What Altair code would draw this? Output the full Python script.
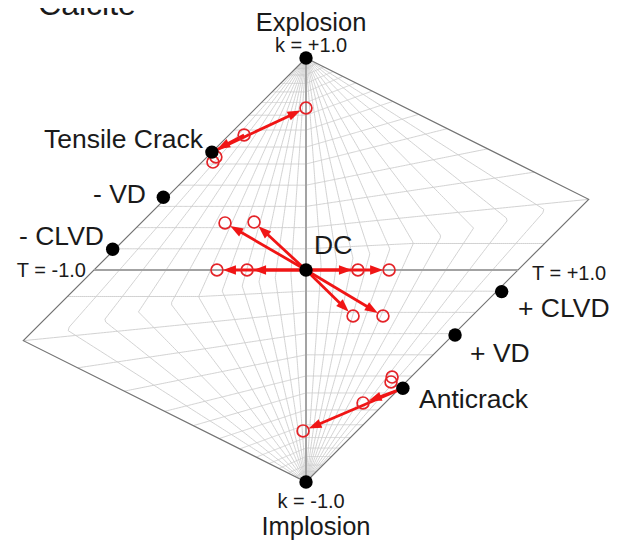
import altair as alt
import numpy as np
import pandas as pd

# ---------------- data (Hudson u-v source-type plot) ----------------
# theoretical source types (black dots)
SRC_NAMES = ["Explosion", "Implosion", "DC", "Tensile Crack", "- VD", "- CLVD",
             "+ CLVD", "+ VD", "Anticrack"]
SRC_U = [0.0, 0.0, 0.0, -0.444, -0.673, -0.912, 0.923, 0.703, 0.457]
SRC_V = [1.0, -1.0, 0.0, 0.556, 0.343, 0.098, -0.102, -0.307, -0.558]

# apparent source types in calcite (red open circles)
CAL_U = [0.000, -0.292, -0.425, -0.439, -0.382, -0.245, -0.278, -0.420,
         0.245, 0.392, 0.222, 0.363, 0.406, 0.401, 0.269, -0.014]
CAL_V = [0.764, 0.637, 0.533, 0.509, 0.222, 0.226, 0.000, 0.000,
         0.000, 0.000, -0.217, -0.217, -0.505, -0.528, -0.627, -0.759]

# arrows (from -> to)
ARR_U0 = [0, 0, 0, 0, 0, 0, 0, 0, -0.444, -0.292, 0.457, 0.457]
ARR_V0 = [0, 0, 0, 0, 0, 0, 0, 0, 0.556, 0.637, -0.558, -0.558]
ARR_U1 = [-0.382, -0.245, -0.278, -0.420, 0.245, 0.392, 0.222, 0.363,
          0.000, -0.444, 0.269, -0.014]
ARR_V1 = [0.222, 0.226, 0.000, 0.000, 0.000, 0.000, -0.217, -0.217,
          0.764, 0.556, -0.627, -0.759]

# grid levels of T and k
T_LEVELS = [0.07, 0.14, 0.21, 0.28, 0.36, 0.45, 0.55, 0.66, 0.77, 0.88]
K_LEVELS = [0.10, 0.20, 0.30, 0.40, 0.50, 0.58, 0.66, 0.73, 0.79, 0.84, 0.88, 0.92, 0.95]

# diamond outline
OUT_U = [0.0, 4 / 3, 0.0, -4 / 3, 0.0]
OUT_V = [1.0, 1 / 3, -1.0, -1 / 3, 1.0]

# labels
BIG_LABELS = ["Explosion", "Implosion"]
BIG_U = [0.024, 0.047]
BIG_V = [1.127, -1.250]
SMALL_CENTER = ["k = +1.0", "k = -1.0"]
SMALL_CENTER_U = [0.024, 0.024]
SMALL_CENTER_V = [1.028, -1.123]
RIGHT_LABELS = ["Tensile Crack", "- VD", "- CLVD"]
RIGHT_U = [-0.486, -0.755, -0.953]
RIGHT_V = [0.575, 0.316, 0.118]
LEFT_LABELS = ["DC", "+ CLVD", "+ VD", "Anticrack"]
LEFT_U = [0.038, 1.000, 0.774, 0.533]
LEFT_V = [0.075, -0.222, -0.434, -0.651]
T_LABELS = ["T = -1.0", "T = +1.0"]
T_LAB_U = [-1.038, 1.066]
T_LAB_V = [-0.033, -0.047]
TITLE = ["Calcite"]
TITLE_U = [-1.264]
TITLE_V = [1.203]


# ---------------- helpers ----------------
def hudson(T, k):
    tau = T * (1 - abs(k))
    if (tau > 0 and k < 0) or (tau < 0 and k > 0):
        return tau, k
    if tau >= 0 and k >= 0:
        if tau < 4 * k:
            return tau / (1 - tau / 2), k / (1 - tau / 2)
        return tau / (1 - 2 * k), k / (1 - 2 * k)
    if tau > 4 * k:
        return tau / (1 + tau / 2), k / (1 + tau / 2)
    return tau / (1 + 2 * k), k / (1 + 2 * k)


PX = 212.0  # pixels per unit
xs = alt.Scale(domain=[-1.4057, 1.4717], nice=False, zero=False)
ys = alt.Scale(domain=[-1.2830, 1.2358], nice=False, zero=False)


def X(f):
    return alt.X(f, type="quantitative", scale=xs, axis=None)


def Y(f):
    return alt.Y(f, type="quantitative", scale=ys, axis=None)


# grid lines
rows = []
samp = np.linspace(-1, 1, 241)
lid = 0
for s in (-1, 1):
    for t in T_LEVELS:
        for i, k in enumerate(samp):
            u, v = hudson(s * t, k)
            rows.append((lid, i, u, v))
        lid += 1
    for kk in K_LEVELS:
        for i, T in enumerate(samp):
            u, v = hudson(T, s * kk)
            rows.append((lid, i, u, v))
        lid += 1
grid_df = pd.DataFrame(rows, columns=["id", "o", "u", "v"])

grid = alt.Chart(grid_df).mark_line(color="#cdcdcd", strokeWidth=0.9).encode(
    x=X("u"), y=Y("v"), detail="id:N", order="o:Q")

out_df = pd.DataFrame({"u": OUT_U, "v": OUT_V, "o": list(range(len(OUT_U)))})
outline = alt.Chart(out_df).mark_line(color="#737373", strokeWidth=1.2).encode(
    x=X("u"), y=Y("v"), order="o:Q")

axes_df = pd.DataFrame({"u": [-1.0, 0.0], "v": [0.0, -1.0], "u2": [1.0, 0.0], "v2": [0.0, 1.0]})
axes = alt.Chart(axes_df).mark_rule(color="#a3a3a3", strokeWidth=2).encode(
    x=X("u"), y=Y("v"), x2="u2", y2="v2")

# arrows
RED = "#f01515"
r_circ = 6.0 / PX
head_len = 13.0 / PX
arows = []
for u0, v0, u1, v1 in zip(ARR_U0, ARR_V0, ARR_U1, ARR_V1):
    du, dv = u1 - u0, v1 - v0
    L = np.hypot(du, dv)
    du, dv = du / L, dv / L
    tipu, tipv = u1 - du * r_circ, v1 - dv * r_circ
    hu, hv = tipu - du * head_len / 2, tipv - dv * head_len / 2
    su, sv = tipu - du * head_len * 0.7, tipv - dv * head_len * 0.7
    ang = (np.degrees(np.arctan2(du, dv)) + 360) % 360
    arows.append((u0, v0, su, sv, hu, hv, ang))
arr_df = pd.DataFrame(arows, columns=["u0", "v0", "su", "sv", "hu", "hv", "ang"])

shafts = alt.Chart(arr_df).mark_rule(color=RED, strokeWidth=2.8).encode(
    x=X("u0"), y=Y("v0"), x2="su", y2="sv")
heads = alt.Chart(arr_df).mark_point(
    shape="M0,-1L0.72,1L-0.72,1Z", filled=True, color=RED, opacity=1,
    size=169, strokeWidth=0).encode(
    x=X("hu"), y=Y("hv"), angle=alt.Angle("ang:Q", scale=None))

cal_df = pd.DataFrame({"u": CAL_U, "v": CAL_V})
cal = alt.Chart(cal_df).mark_point(
    shape="circle", filled=False, color="#e42328", size=140, strokeWidth=1.7, opacity=1).encode(
    x=X("u"), y=Y("v"))

src_df = pd.DataFrame({"name": SRC_NAMES, "u": SRC_U, "v": SRC_V})
src = alt.Chart(src_df).mark_circle(color="#000000", size=180, opacity=1).encode(
    x=X("u"), y=Y("v"))


def text_layer(labels, us, vs, size, align):
    df = pd.DataFrame({"t": labels, "u": us, "v": vs})
    return alt.Chart(df).mark_text(
        font="Liberation Sans", fontSize=size, align=align, baseline="alphabetic",
        color="#1a1a1a").encode(x=X("u"), y=Y("v"), text="t:N")


texts = [
    text_layer(BIG_LABELS, BIG_U, BIG_V, 25.5, "center"),
    text_layer(SMALL_CENTER, SMALL_CENTER_U, SMALL_CENTER_V, 20, "center"),
    text_layer(RIGHT_LABELS, RIGHT_U, RIGHT_V, 26.5, "right"),
    text_layer(LEFT_LABELS, LEFT_U, LEFT_V, 26.5, "left"),
    text_layer(T_LABELS[:1], T_LAB_U[:1], T_LAB_V[:1], 20, "right"),
    text_layer(T_LABELS[1:], T_LAB_U[1:], T_LAB_V[1:], 20, "left"),
    text_layer(TITLE, TITLE_U, TITLE_V, 32, "left"),
]

chart = alt.layer(grid, outline, axes, shafts, heads, cal, src, *texts).properties(
    width=610, height=534, autosize="none", padding=0
).configure_view(stroke=None)

chart.save("out.html", embed_options={"renderer": "svg", "actions": False})
